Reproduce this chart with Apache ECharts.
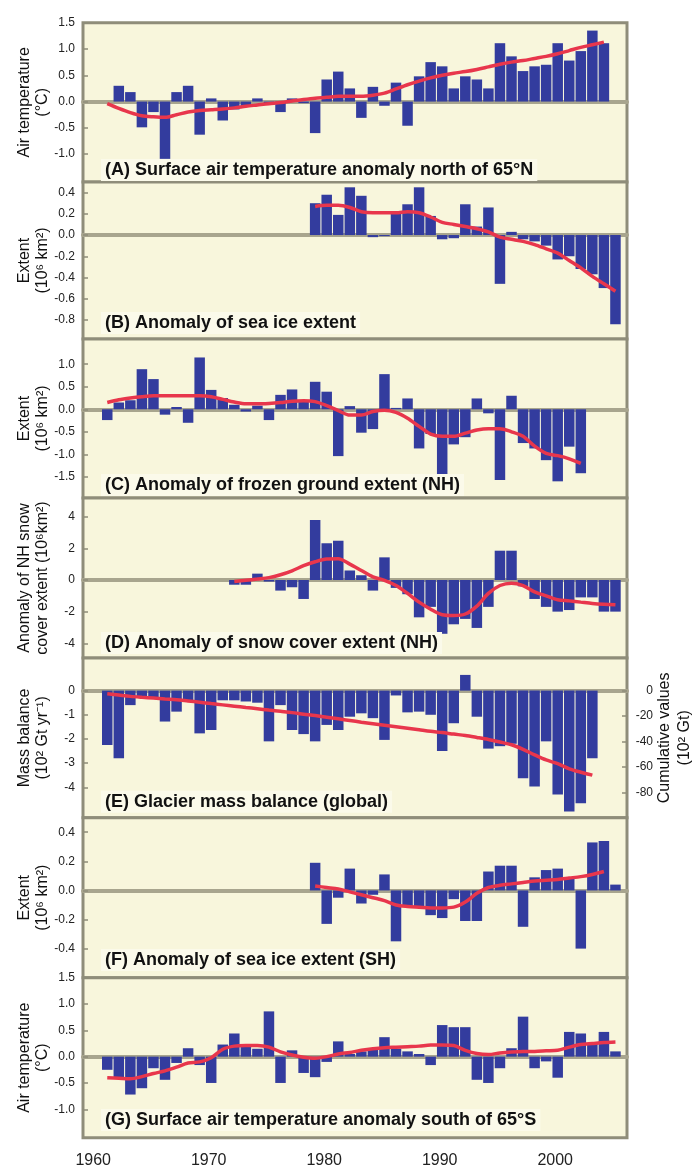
<!DOCTYPE html>
<html>
<head>
<meta charset="utf-8">
<script src="https://cdn.jsdelivr.net/npm/echarts@6/dist/echarts.min.js"></script>
<style>html,body{margin:0;padding:0;background:#fff}#c{width:693px;height:1167px}</style>
</head>
<body>
<div id="c"></div>
<script>
// ---------------- data ----------------
const decadeLabels = [1960, 1970, 1980, 1990, 2000];

// (A) Surface air temperature anomaly north of 65N (degC)
const startBarsA = 1962;
const barsA = [0.30, 0.18, -0.49, -0.2, -1.09, 0.18, 0.30, -0.63, 0.06, -0.36, -0.15, -0.1, 0.06, -0.03, -0.2, 0.06, -0.03, -0.6, 0.42, 0.57, 0.25, -0.31, 0.28, -0.08, 0.36, -0.46, 0.48, 0.75, 0.67, 0.25, 0.48, 0.42, 0.25, 1.11, 0.86, 0.58, 0.67, 0.70, 1.11, 0.78, 0.96, 1.35, 1.11];
const startLineA = 1961;
const lineA = [-0.04, -0.13, -0.21, -0.27, -0.29, -0.3, -0.25, -0.2, -0.17, -0.155, -0.14, -0.12, -0.09, -0.065, -0.04, -0.02, 0.01, 0.04, 0.065, 0.08, 0.1, 0.1, 0.1, 0.12, 0.16, 0.24, 0.32, 0.39, 0.45, 0.5, 0.54, 0.57, 0.61, 0.66, 0.71, 0.75, 0.78, 0.82, 0.86, 0.91, 0.97, 1.03, 1.08, 1.13];

// (B) Anomaly of sea ice extent (10^6 km2)
const startBarsB = 1979;
const barsB = [0.30, 0.38, 0.19, 0.45, 0.37, -0.02, -0.01, 0.22, 0.29, 0.45, 0.18, -0.04, -0.03, 0.29, 0.08, 0.26, -0.46, 0.03, -0.04, -0.06, -0.1, -0.23, -0.2, -0.32, -0.37, -0.5, -0.84];
const startLineB = 1979;
const lineB = [0.27, 0.28, 0.28, 0.26, 0.22, 0.21, 0.21, 0.21, 0.22, 0.21, 0.17, 0.12, 0.10, 0.08, 0.06, 0.03, -0.02, -0.04, -0.06, -0.09, -0.13, -0.17, -0.24, -0.31, -0.39, -0.46, -0.53];

// (C) Anomaly of frozen ground extent NH (10^6 km2)
const startBarsC = 1961;
const barsC = [-0.24, 0.15, 0.2, 0.89, 0.67, -0.12, 0.05, -0.3, 1.15, 0.43, 0.25, 0.1, -0.05, 0.08, -0.24, 0.32, 0.44, 0.2, 0.61, 0.39, -1.04, 0.07, -0.52, -0.44, 0.78, 0.03, 0.24, -0.87, -0.55, -1.46, -0.78, -0.62, 0.24, -0.09, -1.57, 0.3, -0.75, -0.87, -1.13, -1.6, -0.83, -1.42];
const startLineC = 1961;
const lineC = [0.15, 0.21, 0.25, 0.28, 0.3, 0.3, 0.3, 0.3, 0.3, 0.28, 0.22, 0.16, 0.12, 0.12, 0.13, 0.15, 0.18, 0.19, 0.17, 0.08, -0.03, -0.13, -0.13, -0.05, -0.02, -0.07, -0.2, -0.38, -0.55, -0.6, -0.6, -0.53, -0.46, -0.43, -0.43, -0.5, -0.6, -0.82, -0.98, -1.03, -1.1, -1.2];

// (D) Anomaly of snow cover extent NH (10^6 km2)
const startBarsD = 1972;
const barsD = [-0.3, -0.3, 0.4, -0.1, -0.67, -0.46, -1.2, 3.79, 2.32, 2.48, 0.6, 0.3, -0.67, 1.43, -0.5, -0.9, -2.36, -1.7, -3.4, -2.8, -2.46, -3.03, -1.7, 1.85, 1.85, -0.4, -1.2, -1.7, -2.0, -1.9, -1.1, -1.1, -2.0, -2.0];
const startLineD = 1972;
const lineD = [-0.1, -0.02, 0.06, 0.15, 0.33, 0.58, 0.9, 1.15, 1.32, 1.34, 1.0, 0.6, 0.2, -0.02, -0.35, -0.85, -1.4, -1.85, -2.2, -2.25, -2.15, -1.65, -0.85, -0.35, -0.2, -0.35, -0.75, -1.0, -1.25, -1.32, -1.4, -1.48, -1.53, -1.56];

// (E) Glacier mass balance (10^2 Gt/yr) and cumulative values (10^2 Gt)
const startBarsE = 1961;
const barsE = [-2.25, -2.8, -0.6, -0.3, -0.3, -1.28, -0.87, -0.4, -1.77, -1.63, -0.4, -0.4, -0.45, -0.5, -2.1, -0.6, -1.63, -1.8, -2.1, -1.42, -1.63, -1.08, -0.94, -1.14, -2.04, -0.2, -0.9, -0.87, -1.0, -2.5, -1.35, 0.65, -1.08, -2.4, -2.3, -2.2, -3.63, -3.97, -2.1, -4.3, -5.0, -4.66, -2.8];
const startLineE = 1961;
const cumulativeE = [-2.5, -3.5, -4.5, -5.2, -5.8, -6.5, -7.1, -8.1, -9.1, -10.2, -11.2, -12.2, -13.2, -14.2, -15.3, -16.3, -17.3, -18.5, -19.6, -20.9, -22.2, -23.5, -24.8, -26.0, -27.2, -28.4, -29.6, -30.8, -32, -33, -34.2, -35.3, -36.8, -38.4, -40.4, -42.6, -46.2, -50.5, -54.5, -57.5, -61.5, -64.2, -66.5];

// (F) Anomaly of sea ice extent SH (10^6 km2)
const startBarsF = 1979;
const barsF = [0.19, -0.23, -0.05, 0.15, -0.09, -0.03, 0.11, -0.35, -0.11, -0.11, -0.17, -0.19, -0.06, -0.21, -0.21, 0.13, 0.17, 0.17, -0.25, 0.09, 0.14, 0.15, 0.08, -0.4, 0.33, 0.34, 0.04];
const startLineF = 1979;
const lineF = [0.03, 0.02, 0.01, -0.01, -0.03, -0.05, -0.07, -0.1, -0.11, -0.115, -0.12, -0.12, -0.115, -0.08, -0.02, 0.02, 0.035, 0.045, 0.055, 0.065, 0.07, 0.075, 0.085, 0.095, 0.11, 0.13];

// (G) Surface air temperature anomaly south of 65S (degC)
const startBarsG = 1961;
const barsG = [-0.25, -0.4, -0.72, -0.6, -0.22, -0.44, -0.12, 0.16, -0.16, -0.5, 0.23, 0.44, 0.2, 0.15, 0.86, -0.5, 0.12, -0.31, -0.39, -0.1, 0.29, 0.05, 0.1, 0.15, 0.37, 0.15, 0.1, 0.05, -0.16, 0.6, 0.56, 0.56, -0.44, -0.5, -0.22, 0.16, 0.76, -0.22, -0.09, -0.4, 0.47, 0.44, 0.25, 0.47, 0.1];
const startLineG = 1961;
const lineG = [-0.4, -0.41, -0.42, -0.38, -0.32, -0.27, -0.2, -0.12, -0.1, -0.02, 0.14, 0.2, 0.21, 0.21, 0.18, 0.09, 0.03, -0.01, -0.03, 0.0, 0.05, 0.08, 0.12, 0.15, 0.17, 0.18, 0.19, 0.2, 0.22, 0.22, 0.21, 0.12, 0.06, 0.04, 0.07, 0.09, 0.1, 0.1, 0.11, 0.12, 0.18, 0.23, 0.25, 0.27, 0.28];

// tick labels
const ticksA = [1.5, 1.0, 0.5, 0.0, -0.5, -1.0];
const ticksB = [0.4, 0.2, 0.0, -0.2, -0.4, -0.6, -0.8];
const ticksC = [1.0, 0.5, 0.0, -0.5, -1.0, -1.5];
const ticksD = [4, 2, 0, -2, -4];
const ticksE = [0, -1, -2, -3, -4];
const ticksERight = [0, -20, -40, -60, -80];
const ticksF = [0.4, 0.2, 0.0, -0.2, -0.4];
const ticksG = [1.5, 1.0, 0.5, 0.0, -0.5, -1.0];

const panelTitles = [
  '(A) Surface air temperature anomaly north of 65°N',
  '(B) Anomaly of sea ice extent',
  '(C) Anomaly of frozen ground extent (NH)',
  '(D) Anomaly of snow cover extent (NH)',
  '(E) Glacier mass balance (global)',
  '(F) Anomaly of sea ice extent (SH)',
  '(G) Surface air temperature anomaly south of 65°S'
];
const axisNames = [
  'Air temperature\n(°C)',
  'Extent\n(10⁶ km²)',
  'Extent\n(10⁶ km²)',
  'Anomaly of NH snow\ncover extent (10⁶km²)',
  'Mass balance\n(10² Gt yr⁻¹)',
  'Extent\n(10⁶ km²)',
  'Air temperature\n(°C)'
];
const rightAxisName = 'Cumulative values\n(10² Gt)';

// ---------------- layout / style ----------------
const X_MIN = 1958.9, X_MAX = 2006.0;
const tops =    [22.7, 182, 339, 498, 658, 817.7, 977.7];
const bottoms = [182, 339, 498, 658, 817.7, 977.7, 1137.7];
const yRanges = [[-1.53, 1.5], [-0.98, 0.5], [-1.97, 1.56], [-4.93, 5.18], [-5.26, 1.35], [-0.60, 0.50], [-1.54, 1.5]];
const rightRangeE = [-100, 25.7];
const titleCenters = [170, 323, 485, 643, 801.7, 960, 1120];
const decimals = [1, 1, 1, 0, 0, 1, 1];

const FONT = '"Liberation Sans", Arial, Helvetica, sans-serif';
const BAR = '#333c9e', RED = '#e8364c', ZERO = '#a8a58e', FRAME = '#8f8d7a', BG = '#f8f6dc';

const panels = [
  {bars: barsA, b0: startBarsA, line: lineA, l0: startLineA, ticks: ticksA},
  {bars: barsB, b0: startBarsB, line: lineB, l0: startLineB, ticks: ticksB},
  {bars: barsC, b0: startBarsC, line: lineC, l0: startLineC, ticks: ticksC},
  {bars: barsD, b0: startBarsD, line: lineD, l0: startLineD, ticks: ticksD},
  {bars: barsE, b0: startBarsE, line: cumulativeE, l0: startLineE, ticks: ticksE, right: true},
  {bars: barsF, b0: startBarsF, line: lineF, l0: startLineF, ticks: ticksF},
  {bars: barsG, b0: startBarsG, line: lineG, l0: startLineG, ticks: ticksG}
];

const grid = [], xAxis = [], yAxis = [], series = [], title = [];
panels.forEach((p, i) => {
  grid.push({
    left: 83, width: 544, top: tops[i], height: bottoms[i] - tops[i],
    outerBoundsMode: 'none', containLabel: false,
    show: true, backgroundColor: BG, borderColor: FRAME, borderWidth: 3
  });
  xAxis.push({
    gridIndex: i, type: 'value', min: X_MIN, max: X_MAX, position: 'top',
    axisLine: {show: true, onZero: true, lineStyle: {color: ZERO, width: 4}},
    axisTick: {show: false}, axisLabel: {show: false}, splitLine: {show: false}
  });
  const d = decimals[i];
  yAxis.push({
    gridIndex: i, type: 'value', position: 'left', min: yRanges[i][0], max: yRanges[i][1],
    axisLine: {show: false},
    axisTick: {show: true, inside: true, length: 5, customValues: p.ticks, lineStyle: {color: FRAME, width: 1.5}},
    axisLabel: {customValues: p.ticks, formatter: v => Number(v).toFixed(d), fontSize: 12, color: '#222', margin: 8, fontFamily: FONT},
    splitLine: {show: false},
    name: axisNames[i], nameLocation: 'middle', nameRotate: 90, nameGap: 31, nameMoveOverlap: false,
    nameTextStyle: {fontSize: 16, lineHeight: 18, color: '#111', fontFamily: FONT}
  });
  title.push({
    text: panelTitles[i], left: 101, top: titleCenters[i] - 11,
    padding: [1, 4], backgroundColor: '#fbfaea',
    textStyle: {fontSize: 18, fontWeight: 'bold', fontFamily: FONT, color: '#111', lineHeight: 20}
  });
});
// bottom year labels (grid G)
xAxis.push({
  gridIndex: 6, type: 'value', min: X_MIN, max: X_MAX, position: 'bottom',
  axisLine: {show: false, onZero: false}, axisTick: {show: false}, splitLine: {show: false},
  axisLabel: {customValues: decadeLabels, formatter: v => String(Math.round(v)), fontSize: 16, color: '#222', margin: 15, padding: [0, 5, 0, 0], fontFamily: FONT}
});
// right axis of panel E
yAxis.push({
  gridIndex: 4, type: 'value', position: 'right', min: rightRangeE[0], max: rightRangeE[1],
  axisLine: {show: false},
  axisTick: {show: true, inside: true, length: 5, customValues: ticksERight, lineStyle: {color: FRAME, width: 1.5}},
  axisLabel: {customValues: ticksERight, formatter: v => String(v), align: 'right', margin: 26, fontSize: 12, color: '#222', fontFamily: FONT},
  splitLine: {show: false},
  name: rightAxisName, nameLocation: 'middle', nameRotate: 90, nameGap: 28, nameMoveOverlap: false,
  nameTextStyle: {fontSize: 16, lineHeight: 20, color: '#111', fontFamily: FONT}
});

panels.forEach((p, i) => {
  series.push({
    type: 'bar', xAxisIndex: i, yAxisIndex: i, barWidth: 10.5,
    itemStyle: {color: BAR}, z: 2, silent: true,
    data: p.bars.map((v, k) => [p.b0 + k, v])
  });
  series.push({
    type: 'line', xAxisIndex: i, yAxisIndex: p.right ? 7 : i,
    smooth: 0.3, symbol: 'none', z: 3, silent: true,
    lineStyle: {color: RED, width: 3.5},
    data: p.line.map((v, k) => [p.l0 + k, v])
  });
});

const chart = echarts.init(document.getElementById('c'), null, {renderer: 'canvas'});
chart.setOption({
  animation: false,
  backgroundColor: '#ffffff',
  title, grid, xAxis, yAxis, series
});
</script>
</body>
</html>
